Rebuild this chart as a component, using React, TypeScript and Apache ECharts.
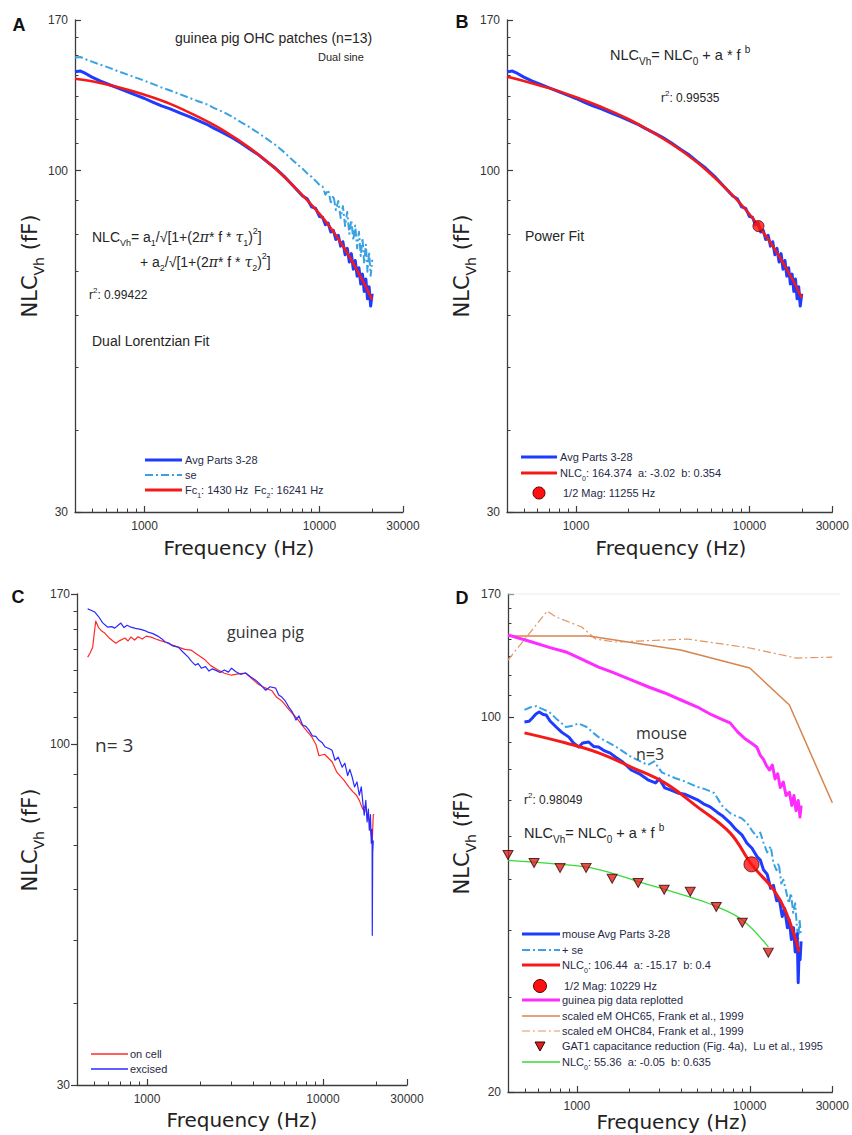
import React, { useEffect, useRef } from "react";
import * as echarts from "echarts";

// ---------------- axes (values) ----------------
const FREQ_MIN = 400;
const FREQ_MAX = 30000;
const FREQ_LABELS = [1000, 10000, 30000];
const FREQ_MINOR = [500, 600, 700, 800, 900, 2000, 3000, 4000, 5000, 6000, 7000, 8000, 9000, 20000];
const NLC_MAX = 170;
const NLC_MIN_ABC = 30;
const NLC_MIN_D = 20;
const NLC_LABELS_ABC = [30, 100, 170];
const NLC_LABELS_D = [20, 100, 170];
const NLC_MINOR_ABC = [40, 50, 60, 70, 80, 90, 110, 120, 130, 140, 150, 160];
const NLC_MINOR_D = [30, 40, 50, 60, 70, 80, 90, 110, 120, 130, 140, 150, 160];

// ---------------- panel A / B : guinea pig OHC patches ----------------
const avgFreq = [400, 430, 460, 500, 560, 630, 700, 800, 900, 1000, 1120, 1250, 1400, 1600, 1800, 2000, 2250, 2500, 2800, 3150, 3550, 4000, 4500, 5000, 5600, 6300, 7100, 8000, 8500, 9000, 9500, 10000, 10400, 10800, 11200, 11600, 12000, 12400, 12800, 13200, 13600, 14000, 14400, 14800, 15200, 15600, 16000, 16400, 16800, 17200, 17600, 18000, 18400, 18800, 19200, 19600, 20000];
const avgNlc = [141.6, 142.0, 140.8, 139.0, 137.0, 135.3, 133.8, 132.0, 130.3, 128.9, 127.2, 125.6, 124.3, 122.4, 120.9, 119.4, 117.8, 116.0, 114.3, 112.4, 110.2, 107.8, 105.6, 103.2, 100.8, 97.9, 94.6, 91.4, 90.5, 88.0, 87.5, 85.0, 84.8, 82.6, 83.1, 80.5, 81.0, 78.4, 79.6, 76.6, 77.8, 74.3, 76.0, 72.4, 74.6, 70.6, 72.8, 68.9, 71.0, 67.0, 69.4, 65.3, 68.2, 63.6, 66.4, 62.0, 64.8];
const seNlc = [149.0, 149.2, 148.0, 146.8, 145.2, 143.6, 142.0, 140.2, 138.6, 137.2, 135.6, 134.0, 132.6, 130.8, 129.2, 127.8, 126.4, 124.6, 123.0, 121.0, 118.6, 116.4, 114.0, 111.8, 109.4, 106.6, 103.4, 100.6, 99.0, 97.8, 96.4, 95.0, 94.6, 91.8, 93.4, 89.4, 91.6, 87.0, 89.8, 84.6, 88.2, 82.2, 86.4, 80.0, 84.0, 78.2, 82.4, 76.0, 80.6, 74.0, 78.8, 72.0, 77.0, 70.0, 75.0, 69.0, 73.0];
const fitFreq = [400, 500, 700, 1000, 1400, 2000, 2800, 4000, 5600, 8000, 10000, 12000, 14000, 16000, 18000, 20000];
const lorentzNlc = [138.2, 137.0, 134.2, 130.6, 126.5, 121.0, 115.3, 108.2, 100.6, 91.6, 85.8, 80.6, 75.7, 71.2, 67.1, 63.4];
const powerNlc = [139.2, 137.1, 133.7, 129.5, 125.1, 119.9, 114.2, 107.5, 100.3, 91.6, 85.7, 80.4, 75.7, 71.4, 67.5, 63.8];
const halfMagB = [11255, 82.2];

// ---------------- panel C : on cell / excised ----------------
const excisedFreq = [460, 480, 505, 530, 560, 598, 630, 656, 680, 710, 740, 770, 810, 860, 920, 970, 1013, 1080, 1150, 1210, 1267, 1330, 1400, 1504, 1600, 1715, 1790, 1879, 1950, 2035, 2150, 2250, 2350, 2447, 2600, 2750, 2900, 3020, 3200, 3400, 3631, 3850, 4140, 4400, 4721, 5000, 5383, 5600, 5834, 6100, 6394, 6700, 7015, 7300, 7650, 8000, 8318, 8700, 9100, 9485, 9900, 10300, 10800, 11250, 11700, 12200, 12850, 13300, 13800, 14200, 14660, 15100, 15600, 16070, 16500, 16900, 17150, 17500, 17800, 18100, 18320, 18600, 18800, 19000, 19050, 19150, 19300];
const excisedNlc = [161.3, 160.5, 159.5, 157.0, 153.5, 151.2, 151.5, 150.7, 152.0, 153.4, 151.0, 152.2, 151.2, 150.6, 150.0, 149.4, 148.6, 147.8, 146.5, 145.2, 143.5, 143.0, 141.5, 140.9, 138.5, 136.0, 134.0, 132.2, 133.0, 130.8, 131.5, 129.5, 130.5, 129.9, 128.8, 130.0, 129.0, 130.8, 129.2, 128.0, 128.6, 127.0, 125.4, 123.5, 121.0, 122.5, 121.9, 119.0, 118.1, 116.5, 114.0, 112.0, 108.9, 110.5, 107.0, 106.5, 105.1, 103.0, 102.8, 101.4, 100.5, 99.0, 98.5, 97.9, 94.5, 95.5, 92.2, 93.5, 89.5, 91.5, 88.9, 86.0, 87.5, 83.5, 86.0, 80.5, 77.8, 82.0, 76.0, 79.5, 73.8, 78.0, 70.5, 74.0, 50.9, 68.0, 71.2];
const onCellFreq = [460, 475, 491, 511, 530, 555, 575, 610, 640, 665, 700, 748, 780, 810, 850, 890, 940, 990, 1054, 1120, 1190, 1267, 1380, 1504, 1640, 1784, 1950, 2143, 2300, 2545, 2750, 3020, 3300, 3631, 3950, 4305, 4700, 5117, 5450, 5834, 6400, 7015, 7800, 8650, 9100, 9485, 10200, 11250, 12000, 13180, 14000, 14800, 15500, 16070, 16800, 17400, 17900, 18320, 18700, 19050, 19300, 19500];
const onCellNlc = [136.0, 138.0, 140.9, 154.5, 151.0, 149.0, 148.1, 145.5, 144.0, 142.9, 144.2, 145.5, 144.0, 146.0, 144.5, 146.2, 145.0, 146.5, 146.0, 145.0, 144.2, 143.5, 142.0, 140.9, 139.8, 139.4, 137.0, 134.6, 132.0, 129.9, 128.5, 127.6, 128.2, 128.6, 126.0, 123.5, 122.0, 120.8, 118.0, 116.5, 113.0, 110.0, 106.0, 102.5, 100.0, 96.0, 96.5, 94.0, 90.5, 88.0, 86.0, 84.5, 83.5, 82.0, 79.5, 80.5, 77.0, 76.4, 73.0, 71.2, 78.0, 77.8];

// ---------------- panel D : mouse vs others ----------------
const mouseFreq = [498, 530, 553, 580, 606, 640, 665, 700, 759, 820, 900, 960, 1026, 1080, 1171, 1250, 1336, 1450, 1560, 1671, 1850, 2061, 2300, 2576, 2850, 3000, 3225, 3500, 3828, 4200, 4980, 5400, 5902, 6500, 7000, 7690, 8300, 9000, 9616, 10300, 11000, 11500, 12020, 12600, 13200, 13700, 14300, 14830, 15400, 15900, 16500, 16940, 17400, 17900, 18300, 18560, 18800, 19050, 19300, 19540, 19800];
const mouseNlc = [98.1, 98.4, 99.8, 101.5, 102.4, 101.3, 101.1, 98.5, 96.0, 93.8, 91.9, 89.5, 88.1, 89.6, 90.0, 88.3, 88.1, 86.6, 85.8, 84.4, 82.5, 79.8, 78.5, 76.5, 75.5, 76.8, 73.9, 73.2, 72.3, 71.9, 70.2, 69.0, 68.1, 66.5, 65.4, 63.6, 61.8, 60.4, 58.3, 57.0, 55.0, 54.2, 51.9, 51.0, 48.0, 48.6, 45.5, 45.7, 42.5, 44.0, 40.5, 41.9, 38.5, 40.5, 36.5, 37.3, 39.5, 32.0, 37.0, 35.3, 38.2];
const mouseSeFreq = [498, 540, 583, 620, 692, 760, 865, 950, 1020, 1140, 1250, 1336, 1500, 1700, 2061, 2300, 2576, 2800, 3100, 3681, 4200, 4980, 5500, 6223, 6900, 7690, 8300, 9000, 9616, 10300, 11000, 11500, 12020, 12600, 13200, 13700, 14260, 14700, 15200, 15630, 16200, 16800, 17300, 17820, 18300, 18700, 19050, 19400, 19700];
const mouseSeNlc = [103.3, 104.5, 105.0, 104.0, 102.4, 99.5, 96.0, 96.5, 97.5, 96.0, 93.5, 91.9, 90.0, 88.0, 84.4, 83.0, 81.5, 82.8, 79.0, 77.1, 76.0, 74.2, 73.5, 72.3, 68.5, 66.3, 65.5, 64.8, 63.6, 61.5, 59.8, 61.0, 58.3, 56.0, 57.5, 53.5, 51.9, 53.5, 49.0, 49.8, 47.5, 45.0, 47.0, 43.2, 45.0, 41.0, 38.5, 42.0, 39.5];
const mouseFitFreq = [498, 865, 1336, 2061, 3225, 4980, 7690, 10229, 13710, 16260, 19300];
const mouseFitNlc = [93.6, 89.6, 85.9, 80.8, 75.5, 68.1, 60.9, 53.2, 47.7, 43.2, 36.5];
const halfMagD = [10229, 53.2];
const gpFreq = [400, 550, 700, 865, 1000, 1336, 1600, 2061, 2600, 3225, 4000, 4980, 6000, 7000, 7690, 8500, 9300, 10000, 10970, 11500, 12000, 12500, 13010, 13500, 14000, 14500, 15000, 15630, 16200, 16940, 17500, 18000, 18500, 19050, 19500, 19800];
const gpNlc = [142.5, 138.3, 135.0, 132.5, 129.8, 124.2, 121.5, 117.5, 114.0, 111.1, 107.8, 104.6, 101.2, 99.0, 97.7, 94.0, 91.5, 90.0, 88.1, 85.0, 83.5, 81.2, 79.8, 81.5, 76.8, 78.5, 74.0, 75.8, 71.5, 72.5, 68.5, 71.5, 67.0, 70.0, 65.2, 68.5];
const ohc65Freq = [400, 1171, 3981, 10000, 16940, 30000];
const ohc65Nlc = [141.9, 141.9, 133.6, 123.7, 105.5, 69.3];
const ohc84Freq = [400, 674, 759, 1068, 1284, 1671, 4365, 10000, 18560, 30000];
const ohc84Nlc = [128.0, 158.0, 154.0, 147.5, 140.1, 138.3, 140.1, 134.8, 129.1, 129.6];
const gat1Freq = [400, 566, 800, 1131, 1600, 2263, 3200, 4525, 6400, 9051, 12800];
const gat1Nlc = [55.4, 53.5, 52.4, 52.4, 50.0, 49.1, 47.7, 47.3, 44.3, 41.4, 36.4];
const gat1FitFreq = [400, 800, 1131, 1600, 2263, 3200, 4525, 6400, 9051, 12800];
const gat1FitNlc = [54.1, 53.2, 52.6, 51.2, 49.4, 47.8, 46.2, 44.4, 41.9, 37.3];

// ---------------- styling ----------------
const SANS = "'Liberation Sans', Arial, sans-serif";
const TITLE_FONT = "'DejaVu Sans', Verdana, sans-serif";
const CAL = "'Open Sans', 'Noto Sans', sans-serif";
const AX = "#3c3c3c";
const TXT = "#262626";
const LEGC = "#1f2a48";
const BLUE = "#1d3cff";
const SE = "#3aa2e4";
const RED = "#f51a1a";
const MAG = "#ff2cff";
const ORANGE = "#d8844f";
const ORANGE2 = "#e19562";
const GREEN = "#36dc36";
const DASHDOT = [8, 3, 2, 3];

const GRIDS = [
  { left: 75, top: 20, width: 328, height: 492 },
  { left: 507, top: 20, width: 329, height: 492 },
  { left: 77, top: 594, width: 330, height: 491 },
  { left: 508, top: 594, width: 328, height: 498 },
];

const L = (v: number) => Math.log10(v);
const pts = (fs: number[], vs: number[]) => fs.map((f, i) => [L(f), L(vs[i])]);
const fmt = (v: number) => String(Math.round(Math.pow(10, v)));

function xAxesFor(g: number) {
  return [
    {
      type: "value", gridIndex: g, min: L(FREQ_MIN), max: L(FREQ_MAX), position: "bottom",
      axisLine: { show: true, onZero: false, lineStyle: { color: AX, width: 1.3 } },
      axisTick: { show: true, inside: true, length: 6, customValues: FREQ_LABELS.map(L), lineStyle: { color: AX, width: 1.2 } },
      axisLabel: { show: true, customValues: FREQ_LABELS.map(L), formatter: fmt, color: "#333", fontSize: 12, fontFamily: SANS, margin: 8 },
      splitLine: { show: false },
    },
    {
      type: "value", gridIndex: g, min: L(FREQ_MIN), max: L(FREQ_MAX), position: "bottom",
      axisLine: { show: false },
      axisTick: { show: true, inside: true, length: 3.5, customValues: FREQ_MINOR.map(L), lineStyle: { color: AX, width: 1 } },
      axisLabel: { show: false },
      splitLine: { show: false },
    },
  ];
}

function yAxesFor(g: number, min: number, labels: number[], minor: number[], inside: boolean) {
  return [
    {
      type: "value", gridIndex: g, min: L(min), max: L(NLC_MAX), position: "left",
      axisLine: { show: true, onZero: false, lineStyle: { color: AX, width: 1.3 } },
      axisTick: { show: true, inside, length: 6, customValues: labels.map(L), lineStyle: { color: AX, width: 1.2 } },
      axisLabel: { show: true, customValues: labels.map(L), formatter: fmt, color: "#333", fontSize: 12, fontFamily: SANS, margin: 7 },
      splitLine: { show: false },
    },
    {
      type: "value", gridIndex: g, min: L(min), max: L(NLC_MAX), position: "left",
      axisLine: { show: false },
      axisTick: { show: true, inside, length: 3.5, customValues: minor.map(L), lineStyle: { color: AX, width: 1 } },
      axisLabel: { show: false },
      splitLine: { show: false },
    },
  ];
}

function line(g: number, name: string, data: number[][], color: string, width: number, extra: any = {}) {
  return {
    type: "line", name, xAxisIndex: g * 2, yAxisIndex: g * 2, data,
    showSymbol: false, symbol: "none", silent: true,
    lineStyle: { color, width, type: extra.dash || "solid", cap: "butt", join: "round" },
    itemStyle: { color },
    smooth: extra.smooth || false,
    z: extra.z || 2,
    emphasis: { disabled: true },
  };
}

function rich(size: number, color: string, family: string) {
  const sub = Math.round(size * 0.66);
  return {
    n: { fontSize: size, fontFamily: family, fill: color, lineHeight: Math.round(size * 1.5), verticalAlign: "middle" },
    s: { fontSize: sub, fontFamily: family, fill: color, lineHeight: sub, verticalAlign: "bottom" },
    p: { fontSize: sub, fontFamily: family, fill: color, lineHeight: sub, verticalAlign: "top" },
    g: { fontSize: size, fontFamily: "'DejaVu Serif', serif", fontStyle: "italic", fill: color, lineHeight: Math.round(size * 1.5), verticalAlign: "middle" },
  };
}

function txt(x: number, y: number, text: string, r: any, align = "left", rotation = 0) {
  return { type: "text", x, y, rotation, silent: true, z: 50, style: { text, rich: r, align, verticalAlign: "middle" } };
}

function plain(x: number, y: number, text: string, font: string, color = TXT, align = "left") {
  return { type: "text", x, y, silent: true, z: 50, style: { text, font, fill: color, align, verticalAlign: "middle" } };
}

function legLine(x1: number, x2: number, y: number, color: string, width: number, dash?: number[]) {
  return { type: "line", silent: true, z: 50, shape: { x1, y1: y, x2, y2: y }, style: { stroke: color, lineWidth: width, lineDash: dash || null } };
}

export default function App() {
  const ref = useRef<HTMLDivElement>(null);
  useEffect(() => {
    if (!ref.current) return;
    const chart = echarts.init(ref.current, null, { renderer: "svg" });

    const legR = rich(11, LEGC, SANS);
    const formR = rich(14, TXT, SANS);
    const smallR = rich(12, TXT, SANS);
    const yTitleR = rich(21, "#222", TITLE_FONT);
    const yTitle = "{n|NLC}{s|Vh}{n| (fF)}";

    const graphic: any[] = [
      // panel letters
      plain(19, 25, "A", `bold 18px ${SANS}`, "#111", "center"),
      plain(462, 22, "B", `bold 18px ${SANS}`, "#111", "center"),
      plain(18, 597, "C", `bold 18px ${SANS}`, "#111", "center"),
      plain(462, 598, "D", `bold 18px ${SANS}`, "#111", "center"),
      // axis titles
      txt(30, 266, yTitle, yTitleR, "center", Math.PI / 2),
      txt(462, 266, yTitle, yTitleR, "center", Math.PI / 2),
      txt(30, 840, yTitle, yTitleR, "center", Math.PI / 2),
      txt(462, 843, yTitle, yTitleR, "center", Math.PI / 2),
      plain(239, 548, "Frequency (Hz)", `20px ${TITLE_FONT}`, "#222", "center"),
      plain(671, 548, "Frequency (Hz)", `20px ${TITLE_FONT}`, "#222", "center"),
      plain(242, 1120, "Frequency (Hz)", `20px ${TITLE_FONT}`, "#222", "center"),
      plain(672, 1122, "Frequency (Hz)", `20px ${TITLE_FONT}`, "#222", "center"),
      // panel A annotations
      plain(175, 38, "guinea pig OHC patches (n=13)", `14px ${SANS}`),
      plain(318, 57, "Dual sine", `11px ${SANS}`),
      txt(92, 237, "{n|NLC}{s|Vh}{n|= a}{s|1}{n|/√[1+(2}{g|π}{n|* f * }{g|τ}{s|1}{n|)}{p|2}{n|]}", formR),
      txt(140, 262, "{n|+ a}{s|2}{n|/√[1+(2}{g|π}{n|* f * }{g|τ}{s|2}{n|)}{p|2}{n|]}", formR),
      txt(89, 295, "{n|r}{p|2}{n|: 0.99422}", smallR),
      plain(92, 341, "Dual Lorentzian Fit", `14px ${SANS}`),
      // panel A legend
      legLine(145, 182, 460, BLUE, 3),
      txt(185, 460, "{n|Avg Parts 3-28}", legR),
      legLine(145, 182, 475, SE, 2, DASHDOT),
      txt(185, 475, "{n|se}", legR),
      legLine(145, 182, 490, RED, 3),
      txt(185, 490, "{n|Fc}{s|1}{n|: 1430 Hz  Fc}{s|2}{n|: 16241 Hz}", legR),
      // panel B annotations
      txt(610, 55, "{n|NLC}{s|Vh}{n|= NLC}{s|0}{n| + a * f }{p|b}", rich(14.5, TXT, SANS)),
      txt(661, 98, "{n|r}{p|2}{n|: 0.99535}", smallR),
      plain(525, 236, "Power Fit", `14px ${SANS}`),
      // panel B legend
      legLine(521, 557, 457, BLUE, 3),
      txt(560, 457, "{n|Avg Parts 3-28}", legR),
      legLine(521, 557, 473, RED, 3),
      txt(560, 473, "{n|NLC}{s|0}{n|: 164.374  a: -3.02  b: 0.354}", legR),
      { type: "circle", silent: true, z: 50, shape: { cx: 539, cy: 493, r: 6 }, style: { fill: "#ff1010", stroke: "#5a0000", lineWidth: 1 } },
      txt(563, 493, "{n|1/2 Mag: 11255 Hz}", legR),
      // panel C annotations
      plain(227, 632, "guinea pig", `16px ${CAL}`, "#333"),
      plain(95, 745, "n= 3", `19px ${CAL}`, "#333"),
      legLine(91, 128, 1054, "#ff2a2a", 1.3),
      txt(130, 1054, "{n|on cell}", legR),
      legLine(91, 128, 1069, "#2a2aff", 1.3),
      txt(130, 1069, "{n|excised}", legR),
      // panel D annotations
      { type: "line", silent: true, z: 1, shape: { x1: 508, y1: 594, x2: 840, y2: 594 }, style: { stroke: "#ececec", lineWidth: 1 } },
      plain(636, 733, "mouse", `16px ${CAL}`, "#333"),
      plain(636, 754, "n=3", `16px ${CAL}`, "#333"),
      txt(524, 800, "{n|r}{p|2}{n|: 0.98049}", smallR),
      txt(524, 833, "{n|NLC}{s|Vh}{n|= NLC}{s|0}{n| + a * f }{p|b}", rich(14.5, TXT, SANS)),
      // panel D legend
      legLine(522, 560, 934, BLUE, 3),
      txt(562, 934, "{n|mouse Avg Parts 3-28}", legR),
      legLine(522, 560, 950, SE, 2, DASHDOT),
      txt(562, 950, "{n|+ se}", legR),
      legLine(522, 560, 965, RED, 3),
      txt(562, 965, "{n|NLC}{s|0}{n|: 106.44  a: -15.17  b: 0.4}", legR),
      { type: "circle", silent: true, z: 50, shape: { cx: 540, cy: 986, r: 6.5 }, style: { fill: "#ff1010", stroke: "#5a0000", lineWidth: 1 } },
      txt(564, 986, "{n|1/2 Mag: 10229 Hz}", legR),
      legLine(522, 560, 1000, MAG, 3),
      txt(562, 1000, "{n|guinea pig data replotted}", legR),
      legLine(522, 560, 1016, ORANGE, 1.5),
      txt(562, 1016, "{n|scaled eM OHC65, Frank et al., 1999}", legR),
      legLine(522, 560, 1031, ORANGE2, 1.2, DASHDOT),
      txt(562, 1031, "{n|scaled eM OHC84, Frank et al., 1999}", legR),
      { type: "polygon", silent: true, z: 50, shape: { points: [[535, 1042], [545, 1042], [540, 1051]] }, style: { fill: "#e02020", stroke: "#3a0000", lineWidth: 1 } },
      txt(562, 1046, "{n|GAT1 capacitance reduction (Fig. 4a),  Lu et al., 1995}", legR),
      legLine(522, 560, 1062, GREEN, 1.3),
      txt(562, 1062, "{n|NLC}{s|0}{n|: 55.36  a: -0.05  b: 0.635}", legR),
    ];

    const series: any[] = [
      // A
      line(0, "A se", pts(avgFreq, seNlc), SE, 2, { dash: DASHDOT, z: 2 }),
      line(0, "A avg", pts(avgFreq, avgNlc), BLUE, 3, { z: 3 }),
      line(0, "A fit", pts(fitFreq, lorentzNlc), RED, 2.6, { smooth: 0.4, z: 4 }),
      // B
      line(1, "B avg", pts(avgFreq, avgNlc), BLUE, 3, { z: 3 }),
      line(1, "B fit", pts(fitFreq, powerNlc), RED, 2.6, { smooth: 0.4, z: 4 }),
      {
        type: "scatter", name: "B half", xAxisIndex: 2, yAxisIndex: 2, data: [[L(halfMagB[0]), L(halfMagB[1])]],
        symbol: "circle", symbolSize: 11, silent: true, z: 6,
        itemStyle: { color: "#ff1010", borderColor: "#5a0000", borderWidth: 1 },
      },
      // C
      line(2, "C on cell", pts(onCellFreq, onCellNlc), "#ff2a2a", 1.2, { z: 3 }),
      line(2, "C excised", pts(excisedFreq, excisedNlc), "#2a2aff", 1.2, { z: 4 }),
      // D
      line(3, "D ohc84", pts(ohc84Freq, ohc84Nlc), ORANGE2, 1.2, { dash: DASHDOT, z: 2 }),
      line(3, "D ohc65", pts(ohc65Freq, ohc65Nlc), ORANGE, 1.5, { z: 2 }),
      line(3, "D gp", pts(gpFreq, gpNlc), MAG, 3, { z: 3 }),
      line(3, "D se", pts(mouseSeFreq, mouseSeNlc), SE, 2, { dash: DASHDOT, z: 3 }),
      line(3, "D avg", pts(mouseFreq, mouseNlc), BLUE, 3, { z: 4 }),
      line(3, "D fit", pts(mouseFitFreq, mouseFitNlc), RED, 3, { smooth: 0.4, z: 5 }),
      line(3, "D gat fit", pts(gat1FitFreq, gat1FitNlc), GREEN, 1.3, { smooth: 0.4, z: 5 }),
      {
        type: "scatter", name: "D gat", xAxisIndex: 6, yAxisIndex: 6, data: pts(gat1Freq, gat1Nlc),
        symbol: "path://M0,0L10,0L5,9Z", symbolSize: [10, 9], silent: true, z: 6,
        itemStyle: { color: "#e02020", borderColor: "#3a0000", borderWidth: 1 },
      },
      {
        type: "scatter", name: "D half", xAxisIndex: 6, yAxisIndex: 6, data: [[L(halfMagD[0]), L(halfMagD[1])]],
        symbol: "circle", symbolSize: 15, silent: true, z: 7,
        itemStyle: { color: "#ff1010", borderColor: "#5a0000", borderWidth: 1 },
      },
    ];

    const option: any = {
      animation: false,
      backgroundColor: "#ffffff",
      grid: GRIDS.map((g) => ({ ...g, containLabel: false })),
      xAxis: [0, 1, 2, 3].flatMap((g) => xAxesFor(g)),
      yAxis: [
        ...yAxesFor(0, NLC_MIN_ABC, NLC_LABELS_ABC, NLC_MINOR_ABC, true),
        ...yAxesFor(1, NLC_MIN_ABC, NLC_LABELS_ABC, NLC_MINOR_ABC, true),
        ...yAxesFor(2, NLC_MIN_ABC, NLC_LABELS_ABC, NLC_MINOR_ABC, false),
        ...yAxesFor(3, NLC_MIN_D, NLC_LABELS_D, NLC_MINOR_D, true),
      ],
      series,
      graphic,
    };
    chart.setOption(option);
    return () => chart.dispose();
  }, []);

  return (
    <div
      ref={ref}
      style={{ position: "absolute", left: 0, top: 0, width: 852, height: 1135, background: "#fff" }}
    />
  );
}
